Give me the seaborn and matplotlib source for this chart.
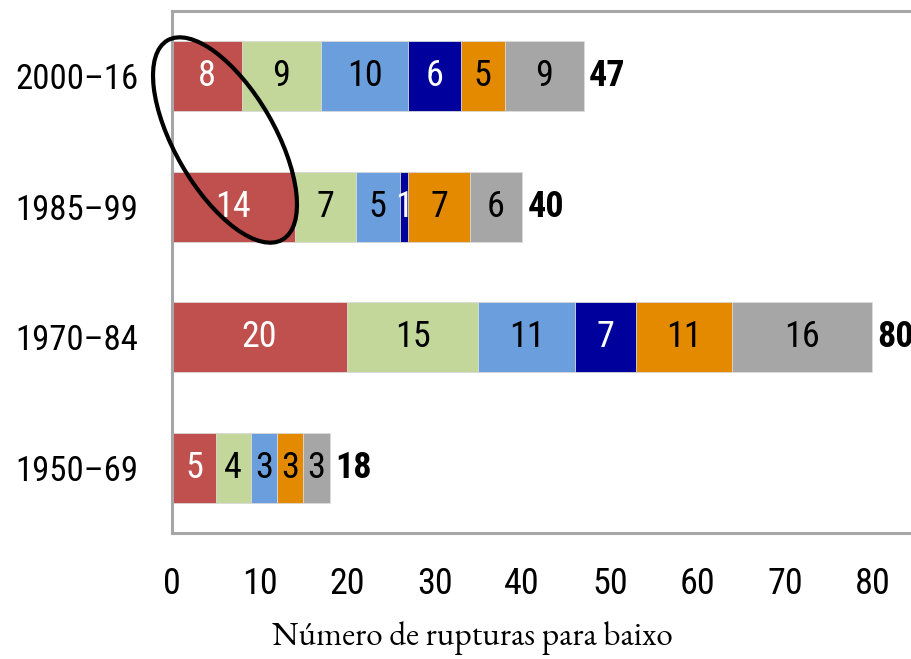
import numpy as np
import pandas as pd
import matplotlib
matplotlib.use("Agg")
import matplotlib.pyplot as plt
from matplotlib.patches import Ellipse
import seaborn as sns

# dados
periods = ["2000–16", "1985–99", "1970–84", "1950–69"]
seg_red = [8, 14, 20, 5]
seg_green = [9, 7, 15, 4]
seg_blue = [10, 5, 11, 3]
seg_navy = [6, 1, 7, 0]
seg_orange = [5, 7, 11, 3]
seg_grey = [9, 6, 16, 3]

colors = ["#C0504D", "#C4D79B", "#6A9EDC", "#00009C", "#E38A00", "#A6A6A6"]
text_colors = ["white", "black", "black", "white", "black", "black"]

sns.set_style("white")
plt.rcParams["font.family"] = ["Roboto Condensed", "PT Sans Narrow", "DejaVu Sans"]

segments = [seg_red, seg_green, seg_blue, seg_navy, seg_orange, seg_grey]
df = pd.DataFrame(np.array(segments).T, columns=range(6))
df.insert(0, "period", periods)
cum = df[list(range(6))].cumsum(axis=1)
totals = cum[5].values

fig = plt.figure(figsize=(9.12, 6.59), dpi=100)
ax = fig.add_axes([172 / 912, 126 / 659, 788 / 912, 522 / 659])

# stacked: draw cumulative widths from the longest down
for k in range(5, -1, -1):
    sns.barplot(x=cum[k].values, y=df["period"], orient="h", color=colors[k],
                width=0.54, saturation=1, edgecolor="#dcdcdc", linewidth=0.6, ax=ax)

for i in range(len(periods)):
    left = 0
    for k in range(6):
        v = segments[k][i]
        if v > 0:
            ax.text(left + v / 2, i, str(v), ha="center", va="center",
                    fontsize=26, color=text_colors[k])
        left += v
    ax.text(totals[i] + 0.6, i, str(totals[i]), ha="left", va="center",
            fontsize=26, fontweight="bold", color="black")

ax.set_xlim(0, 90)
ax.set_ylim(3.5, -0.5)
ax.set_xticks(range(0, 90, 10))
ax.set_xlabel("")
ax.set_ylabel("")
ax.set_yticks(range(4))
ax.set_yticklabels(periods)
ax.set_yticks([0.5, 1.5, 2.5], minor=True)
ax.tick_params(axis="y", which="major", length=0, pad=24, labelsize=25, labelcolor="black")
ax.tick_params(axis="y", which="minor", direction="in", length=7, width=2, color="#A6A6A6")
ax.tick_params(axis="x", direction="in", length=7, width=2, color="#A6A6A6", pad=24,
               labelsize=26, labelcolor="black")
for s in ax.spines.values():
    s.set_color("#A6A6A6")
    s.set_linewidth(2.2)

fig.text(472 / 912, 21 / 659, "Número de rupturas para baixo", ha="center", va="center",
         fontsize=24, color="black", family=["EB Garamond", "Liberation Serif", "DejaVu Serif"])

# destaque
ell = Ellipse((2.25, 5.19), 2.3, 1.0, angle=-60, fill=False, edgecolor="black",
              linewidth=3, transform=fig.dpi_scale_trans, clip_on=False)
fig.add_artist(ell)

fig.savefig("out.png", dpi=100)
